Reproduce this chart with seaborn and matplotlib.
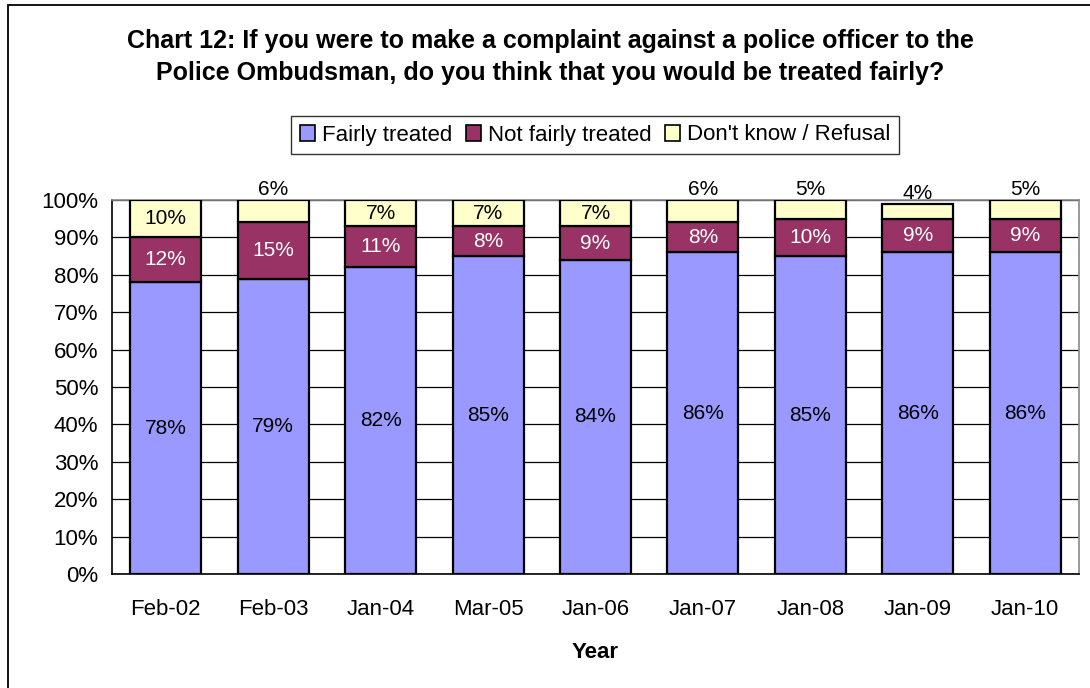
import matplotlib
matplotlib.use("Agg")
import matplotlib.pyplot as plt
import matplotlib.patches as mpatches
from matplotlib.ticker import FixedLocator, PercentFormatter
import numpy as np
import pandas as pd
import seaborn as sns

years = ["Feb-02", "Feb-03", "Jan-04", "Mar-05", "Jan-06", "Jan-07", "Jan-08", "Jan-09", "Jan-10"]
fairly = [78, 79, 82, 85, 84, 86, 85, 86, 86]
not_fairly = [12, 15, 11, 8, 9, 8, 10, 9, 9]
dont_know = [10, 6, 7, 7, 7, 6, 5, 4, 5]

series_names = ["Fairly treated", "Not fairly treated", "Don't know / Refusal"]
series_colors = ["#9999FF", "#993366", "#FFFFCC"]
label_colors = ["black", "white", "black"]

sns.set_theme(style="white")
plt.rcParams["font.family"] = ["Liberation Sans", "DejaVu Sans"]
plt.rcParams["text.color"] = "black"
plt.rcParams["axes.labelcolor"] = "black"
plt.rcParams["xtick.color"] = "black"
plt.rcParams["ytick.color"] = "black"

TICK_FS = 16
BAR_FS = 15

fig = plt.figure(figsize=(10.9, 6.88), dpi=100)
ax = fig.add_axes([112 / 1090, 1 - 574 / 688, (1079 - 112) / 1090, (574 - 200) / 688])

df = pd.DataFrame({"Year": years, series_names[0]: fairly,
                   series_names[1]: not_fairly, series_names[2]: dont_know})

bottoms = np.zeros(len(years))
for name, color, tcol in zip(series_names, series_colors, label_colors):
    vals = df[name].to_numpy(dtype=float)
    sns.barplot(data=df, x="Year", y=name, ax=ax, color=color, bottom=bottoms,
                width=0.66, edgecolor="black", linewidth=1.6, saturation=1,
                errorbar=None, zorder=3)
    for i, (v, b) in enumerate(zip(vals, bottoms)):
        if name == series_names[2] and v <= 6:
            ax.text(i, b + v + 0.2, f"{v:.0f}%", ha="center", va="bottom",
                    fontsize=BAR_FS, color="black", zorder=5)
        else:
            ax.text(i, b + v / 2, f"{v:.0f}%", ha="center", va="center",
                    fontsize=BAR_FS, color=tcol, zorder=5)
    bottoms = bottoms + vals

ax.set_xlim(-0.5, len(years) - 0.5)
ax.set_ylim(0, 100)
ax.yaxis.set_major_locator(FixedLocator(np.arange(0, 101, 10)))
ax.yaxis.set_major_formatter(PercentFormatter(decimals=0))
ax.grid(axis="y", color="black", linewidth=0.9, zorder=0)
ax.set_axisbelow(True)

ax.set_xticks(np.arange(len(years)))
ax.set_xticklabels(years)
ax.xaxis.set_minor_locator(FixedLocator(np.arange(-0.5, len(years), 1.0)))
ax.tick_params(axis="x", which="major", length=0, pad=18, labelsize=TICK_FS)
ax.tick_params(axis="x", which="minor", length=7, width=1, color="black", direction="out")
ax.tick_params(axis="y", which="major", length=6, width=1, color="black", direction="out",
               labelsize=TICK_FS, pad=4)

ax.set_ylabel("")
ax.set_xlabel("Year", fontsize=TICK_FS, fontweight="bold", labelpad=16)

for side in ["left", "bottom"]:
    ax.spines[side].set_color("black")
    ax.spines[side].set_linewidth(1.2)
for side in ["top", "right"]:
    ax.spines[side].set_visible(True)
    ax.spines[side].set_color("#888888")
    ax.spines[side].set_linewidth(1.2)

fig.text(0.505, 1 - 57 / 688,
         "Chart 12: If you were to make a complaint against a police officer to the\n"
         "Police Ombudsman, do you think that you would be treated fairly?",
         ha="center", va="center", fontsize=18, fontweight="bold", linespacing=1.38)

handles = [mpatches.Patch(facecolor=c, edgecolor="black", linewidth=1.2, label=n)
           for n, c in zip(series_names, series_colors)]
leg = fig.legend(handles=handles, loc="center", bbox_to_anchor=(595 / 1090, 1 - 135 / 688),
                 ncol=3, frameon=True, fancybox=False, fontsize=16, handlelength=0.7,
                 handleheight=0.7, handletextpad=0.3, columnspacing=0.6, borderpad=0.4,
                 edgecolor="black")
leg.get_frame().set_linewidth(1.0)

# outer chart frame
fig.patches.append(mpatches.Rectangle((8 / 1090, -0.1), 1.2, 1 - 5 / 688 + 0.1,
                                      transform=fig.transFigure, fill=False,
                                      edgecolor="black", linewidth=1.3))

fig.savefig("out.png", dpi=100)
